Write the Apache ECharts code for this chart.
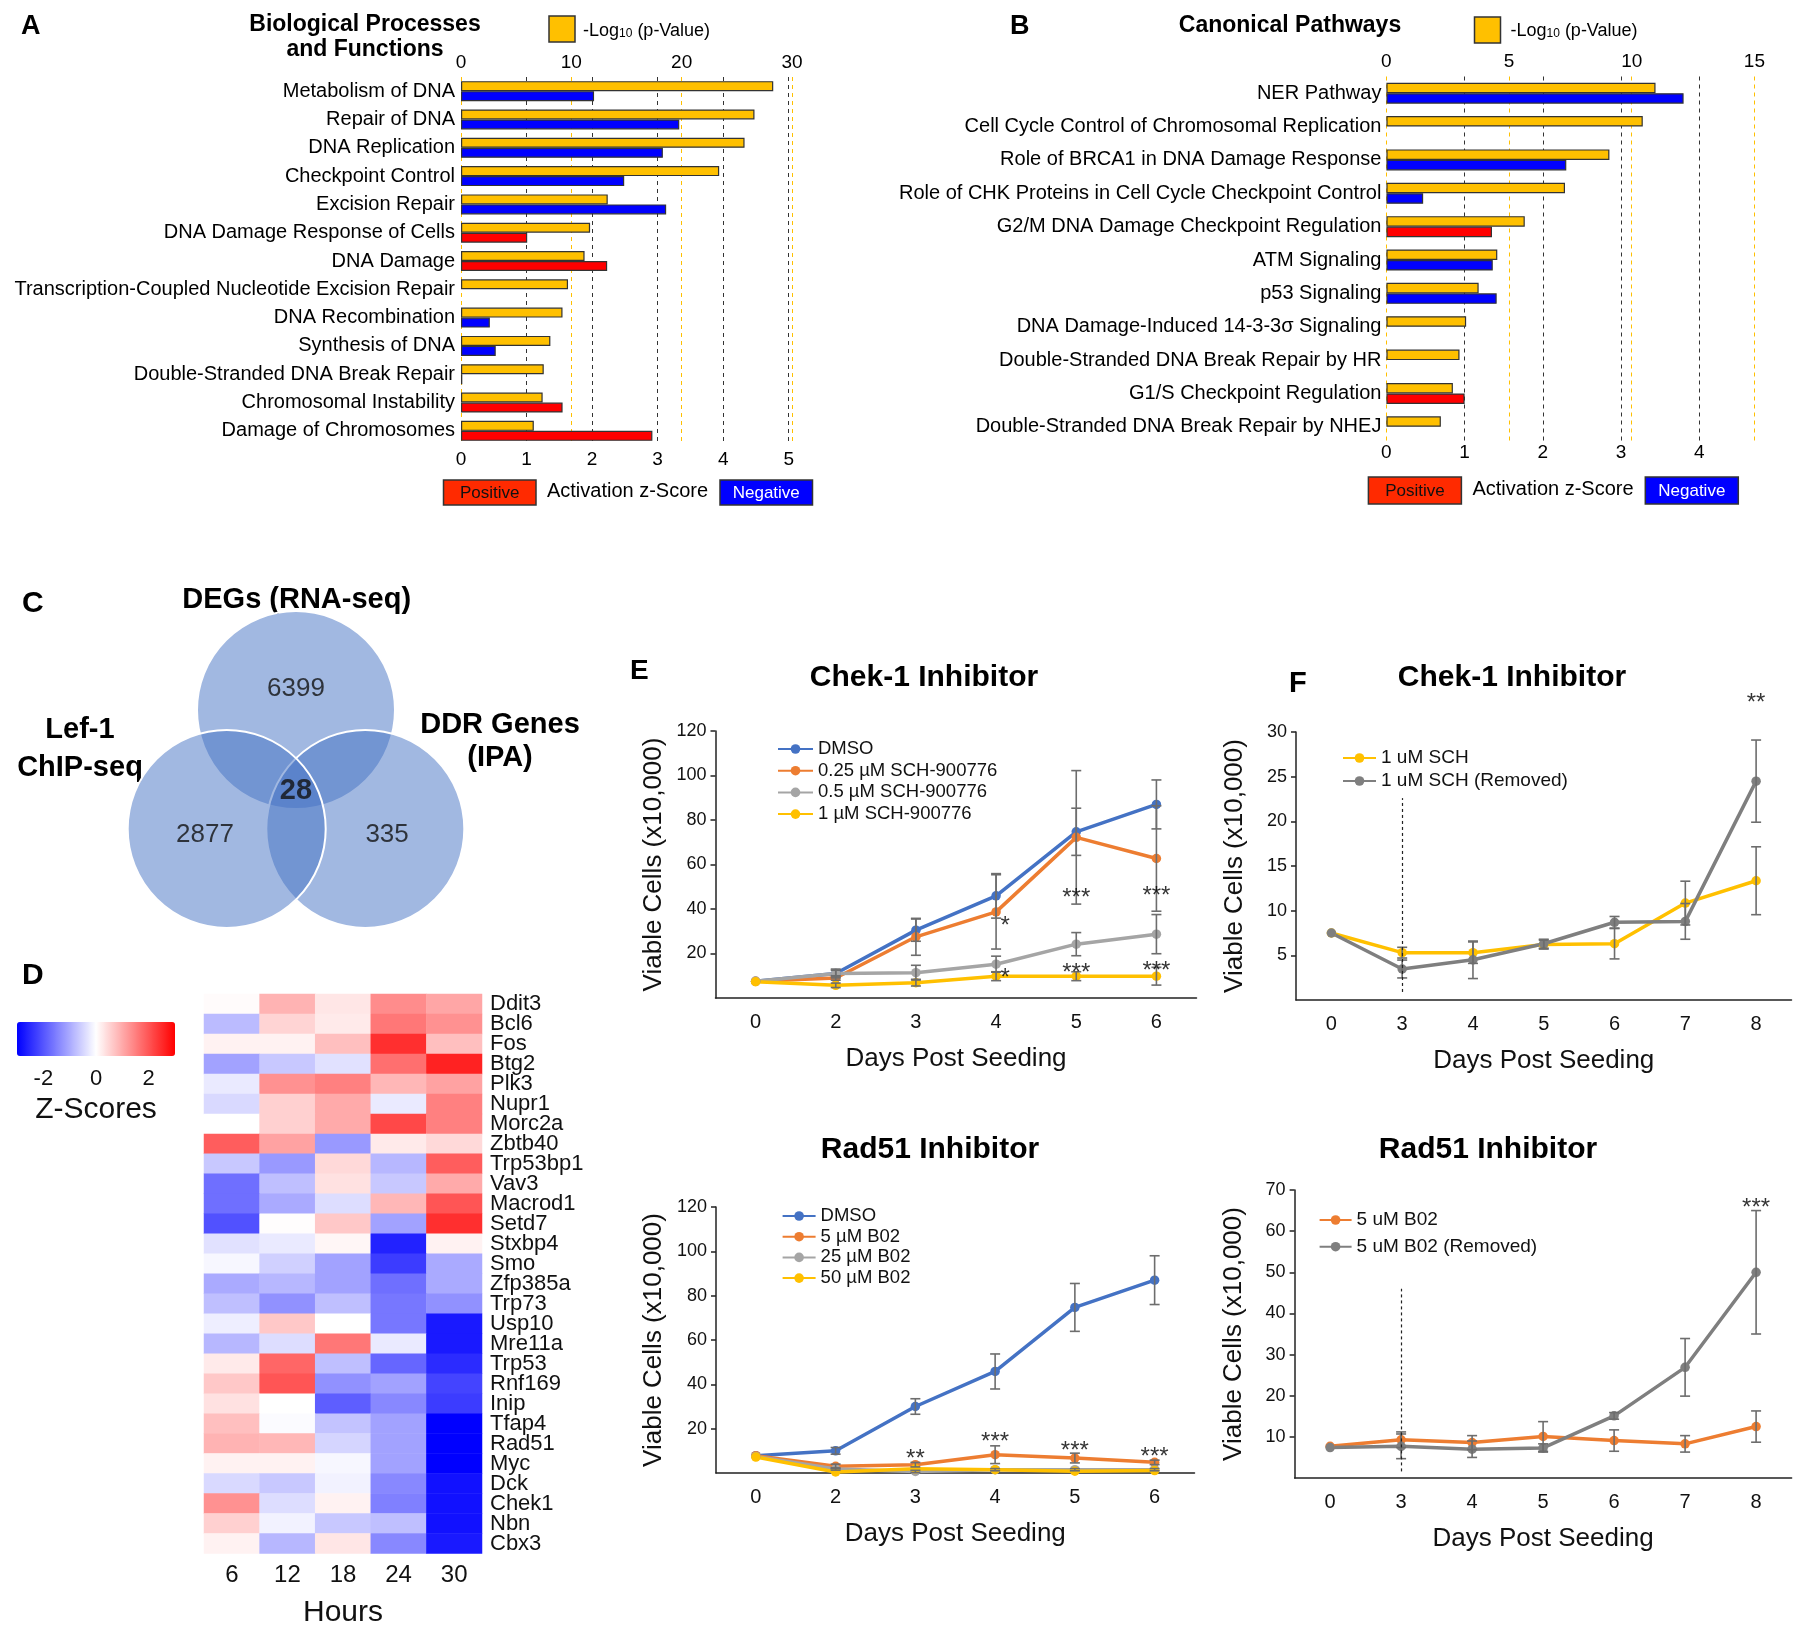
<!DOCTYPE html>
<html><head><meta charset="utf-8">
<script src="https://cdn.jsdelivr.net/npm/echarts@6/dist/echarts.min.js"></script>
<style>html,body{margin:0;padding:0;background:#fff}#c{width:1800px;height:1631px}</style>
</head><body><div id="c"></div>
<script>
// ================= DATA =================
// Panel A
const bioCategories = ['Metabolism of DNA','Repair of DNA','DNA Replication','Checkpoint Control','Excision Repair','DNA Damage Response of Cells','DNA Damage','Transcription-Coupled Nucleotide Excision Repair','DNA Recombination','Synthesis of DNA','Double-Stranded DNA Break Repair','Chromosomal Instability','Damage of Chromosomes'];
const bioLogP = [28.3,26.6,25.7,23.4,13.3,11.7,11.2,9.7,9.2,8.1,7.5,7.4,6.6];
const bioZScore = [-2.03,-3.33,-3.08,-2.49,-3.13,1.01,2.23,null,-0.44,-0.53,-0.02,1.55,2.92];
const bioLogTicks = [0,10,20,30];
const bioZTicks = [0,1,2,3,4,5];
// Panel B
const pathCategories = ['NER Pathway','Cell Cycle Control of Chromosomal Replication','Role of BRCA1 in DNA Damage Response','Role of CHK Proteins in Cell Cycle Checkpoint Control','G2/M DNA Damage Checkpoint Regulation','ATM Signaling','p53 Signaling','DNA Damage-Induced 14-3-3σ Signaling','Double-Stranded DNA Break Repair by HR','G1/S Checkpoint Regulation','Double-Stranded DNA Break Repair by NHEJ'];
const pathLogP = [10.97,10.45,9.09,7.28,5.64,4.52,3.76,3.25,2.98,2.71,2.22];
const pathZScore = [-3.80,null,-2.30,-0.47,1.35,-1.36,-1.41,null,null,1.00,null];
const pathLogTicks = [0,5,10,15];
const pathZTicks = [0,1,2,3,4];
// Panel C
const vennSetNames = ['DEGs (RNA-seq)','Lef-1\nChIP-seq','DDR Genes\n(IPA)'];
const vennUniqueCounts = [6399,2877,335];
const vennCommonCount = 28;
// Panel D
const heatGenes = ['Ddit3','Bcl6','Fos','Btg2','Plk3','Nupr1','Morc2a','Zbtb40','Trp53bp1','Vav3','Macrod1','Setd7','Stxbp4','Smo','Zfp385a','Trp73','Usp10','Mre11a','Trp53','Rnf169','Inip','Tfap4','Rad51','Myc','Dck','Chek1','Nbn','Cbx3'];
const heatHours = ['6','12','18','24','30'];
const heatZ = [
 [0.05,0.9,0.3,1.35,1.05],
 [-0.8,0.5,0.25,1.6,1.3],
 [0.15,0.15,0.75,2.45,0.75],
 [-1.1,-0.65,-0.35,1.7,2.6],
 [-0.25,1.3,1.5,0.85,1.1],
 [-0.45,0.55,1.0,-0.25,1.5],
 [0.0,0.55,1.0,2.15,1.5],
 [1.9,1.1,-1.2,0.25,0.45],
 [-0.65,-1.2,0.45,-0.85,1.9],
 [-1.7,-0.75,0.35,-0.65,1.0],
 [-1.7,-1.0,-0.4,0.85,2.0],
 [-2.05,0.02,0.65,-1.1,2.45],
 [-0.35,-0.25,0.1,-2.6,0.15],
 [-0.1,-0.55,-1.1,-2.3,-1.0],
 [-1.0,-0.85,-1.1,-1.7,-1.0],
 [-0.75,-1.3,-0.75,-1.6,-1.3],
 [-0.2,0.65,0.0,-1.6,-2.7],
 [-0.85,-0.4,1.6,-0.25,-2.7],
 [0.25,1.8,-0.75,-1.8,-2.5],
 [0.65,2.0,-1.3,-1.1,-2.2],
 [0.35,0.0,-1.9,-1.4,-2.3],
 [0.75,-0.05,-0.7,-1.1,-3.0],
 [0.9,0.85,-0.5,-1.1,-3.0],
 [0.15,0.15,-0.1,-1.1,-3.0],
 [-0.45,-0.65,-0.15,-1.4,-2.8],
 [1.3,-0.4,0.15,-1.5,-2.8],
 [0.55,-0.15,-0.65,-0.75,-2.8],
 [0.15,-0.85,0.3,-1.4,-2.7]
];
const zScaleTicks = [-2,0,2];
// Panel E (top): Chek-1 inhibitor
const chekDays = ['0','2','3','4','5','6'];
const chekNames = ['DMSO','0.25 µM SCH-900776','0.5 µM SCH-900776','1 µM SCH-900776'];
const chekDMSO = [7.5,11,30.5,45.9,74.7,87];
const chekDMSOErr = [0,1.5,5,10,10.6,11];
const chek025 = [7.5,9,27.5,38.7,72.2,62.7];
const chek025Err = [0,1,8.3,16.7,30,23.7];
const chek05 = [7.5,11,11.4,15.2,24.2,28.7];
const chek05Err = [0,2,3.3,3.6,5.2,8.8];
const chek1 = [7.3,5.7,6.9,9.8,9.8,9.8];
const chek1Err = [0,1,1.5,2,2,4];
const chekStars = [[3,35.9,'*'],[4,48.5,'***'],[5,49.4,'***'],[3,12.5,'*'],[4,14.7,'***'],[5,15.6,'***']];
// Panel E (bottom): Rad51 inhibitor
const radDays = ['0','2','3','4','5','6'];
const radNames = ['DMSO','5 µM B02','25 µM B02','50 µM B02'];
const radDMSO = [7.8,10,30,45.8,74.7,87];
const radDMSOErr = [0,1.5,3.5,7.9,10.8,11];
const rad5 = [7.8,3,3.75,8.25,6.75,4.8];
const rad5Err = [0,1,1,4,2.2,1];
const rad25 = [7.5,1.8,0.7,1.5,1.5,1.5];
const rad25Err = [0,0.5,0.5,0.5,0.5,0.5];
const rad50 = [7.2,0.45,1.9,1.5,0.8,1.1];
const rad50Err = [0,0,0,0,0,0];
const radStars = [[2,9.7,'**'],[3,17.3,'***'],[4,13.2,'***'],[5,10.5,'***']];
// Panel F (top)
const remDays = ['0','3','4','5','6','7','8'];
const schNames = ['1 uM SCH','1 uM SCH (Removed)'];
const schKept = [7.5,5.3,5.3,6.2,6.3,10.85,13.35];
const schKeptErr = [0,0.6,1.2,0.5,1.7,2.45,3.8];
const schRemoved = [7.5,3.47,4.5,6.3,8.7,8.8,24.5];
const schRemovedErr = [0,1.0,2.1,0.5,0.65,2.0,4.6];
const schStars = [[6,34.1,'**']];
const schRemovalDay = '3';
// Panel F (bottom)
const b02Names = ['5 uM B02','5 uM B02 (Removed)'];
const b02Kept = [7.7,9.3,8.6,10.1,9.1,8.3,12.5];
const b02KeptErr = [0,1.9,1.7,3.6,2.6,2.0,3.8];
const b02Removed = [7.4,7.7,7.0,7.3,15.1,26.9,50];
const b02RemovedErr = [0,3.0,2.0,1.0,0.8,7.0,15.0];
const b02Stars = [[6,67.5,'***']];
const b02RemovalDay = '3';

// ================= STYLE / LAYOUT =================
const SANS = "'Liberation Sans',Arial,Helvetica,sans-serif";
const YEL = '#ffc000', RED = '#ff0000', BLUE = '#0000ff';
const C_BLUE = '#4472c4', C_ORANGE = '#ed7d31', C_GREY = '#a5a5a5', C_DGREY = '#7f7f7f';
const ERR_COL = '#6d6d6d';

const chart = echarts.init(document.getElementById('c'), null, {renderer:'canvas'});

function zItems(arr){
  return arr.map(z => z === null ? '-' : {value: Math.abs(z), itemStyle:{color: z > 0 ? RED : BLUE}});
}
function catAxisBars(grid, cats, margin){
  return {type:'category', gridIndex:grid, data:cats, inverse:true,
    axisLine:{show:false}, axisTick:{show:false}, splitLine:{show:false},
    axisLabel:{interval:0, fontFamily:SANS, fontSize:20, color:'#000', margin:margin}};
}
function valAxisBars(grid, pos, max, labelVals, lineVals, color, margin){
  return {type:'value', gridIndex:grid, position:pos, min:0, max:max,
    axisLine:{show:false},
    axisTick:{show:false, customValues:lineVals},
    axisLabel:{customValues:labelVals, fontFamily:SANS, fontSize:19, color:'#000', margin:margin},
    splitLine:{show:true, lineStyle:{color:color, type:[4,4], width:1}}};
}
function lineXAxis(grid, cats){
  return {type:'category', gridIndex:grid, data:cats, boundaryGap:true,
    axisLine:{lineStyle:{color:'#222', width:1.5}},
    axisTick:{alignWithLabel:true, length:5, lineStyle:{color:'#222', width:1.5}},
    axisLabel:{fontFamily:SANS, fontSize:20, color:'#111', margin:14},
    name:'Days Post Seeding', nameLocation:'middle', nameGap:48,
    nameTextStyle:{fontFamily:SANS, fontSize:26, color:'#111'}};
}
function lineYAxis(grid, max, interval, gap){
  return {type:'value', gridIndex:grid, min:0, max:max, interval:interval,
    axisLine:{show:true, lineStyle:{color:'#222', width:1.5}},
    axisTick:{show:true, length:5, lineStyle:{color:'#222', width:1.5}},
    axisLabel:{showMinLabel:false, fontFamily:SANS, fontSize:18, color:'#111', margin:9},
    splitLine:{show:false},
    name:'Viable Cells (x10,000)', nameLocation:'middle', nameRotate:90, nameGap:gap,
    nameTextStyle:{fontFamily:SANS, fontSize:26, color:'#111'}};
}
function lineSeries(name, data, color, xi, yi){
  return {type:'line', name:name, data:data, xAxisIndex:xi, yAxisIndex:yi,
    symbol:'circle', symbolSize:9.5, showSymbol:true,
    lineStyle:{width:3.5, color:color}, itemStyle:{color:color}, z:3,
    emphasis:{disabled:true}};
}
function errSeries(means, errs, xi, yi){
  const data = [];
  means.forEach((m,i) => { if (errs[i] > 0) data.push([i, m - errs[i], m + errs[i]]); });
  return {type:'custom', xAxisIndex:xi, yAxisIndex:yi, z:4, data:data,
    encode:{x:0, y:[1,2]},
    renderItem:(params, api) => {
      const x = api.value(0);
      const lo = api.coord([x, api.value(1)]);
      const hi = api.coord([x, api.value(2)]);
      const w = 5;
      const st = {stroke:ERR_COL, lineWidth:1.6};
      return {type:'group', children:[
        {type:'line', shape:{x1:lo[0], y1:lo[1], x2:hi[0], y2:hi[1]}, style:st},
        {type:'line', shape:{x1:lo[0]-w, y1:lo[1], x2:lo[0]+w, y2:lo[1]}, style:st},
        {type:'line', shape:{x1:hi[0]-w, y1:hi[1], x2:hi[0]+w, y2:hi[1]}, style:st}
      ]};
    }};
}
function starSeries(stars, xi, yi){
  return {type:'scatter', xAxisIndex:xi, yAxisIndex:yi, symbolSize:0, clip:false, z:5,
    data: stars.map(s => ({value:[s[0], s[1]], name:s[2],
      label:{offset:[s[2] === '*' ? 9 : 0, 8]}})),
    label:{show:true, position:'inside', formatter:p => p.name,
      fontFamily:SANS, fontSize:24, color:'#000'},
    emphasis:{disabled:true}};
}
function removalLine(day, lo, hi, xi, yi){
  return {type:'line', xAxisIndex:xi, yAxisIndex:yi, data:[], z:1,
    markLine:{silent:true, symbol:'none', label:{show:false},
      lineStyle:{color:'#222', type:[3,3], width:1.2},
      data:[[{coord:[day, lo]}, {coord:[day, hi]}]]}};
}

// ----- Venn layout (geometry only; radius = 1 unit) -----
const VENN_R = 1;
const vennCenters = [[0,0.6],[0.7,-0.6],[-0.7,-0.6]]; // top, right, left (draw order)
const vennPx = 99; // px per unit
const vennLabelSpots = [[0,0.81],[-0.92,-0.66],[0.92,-0.66]];
const vennCommonSpot = [0,-0.22];

const heatData = [];
heatZ.forEach((row, gi) => row.forEach((v, hi) => heatData.push([hi, gi, v])));

const series = [
  {type:'bar', name:'logA', xAxisIndex:0, yAxisIndex:0, data:bioLogP, barWidth:10, barGap:'0%',
    itemStyle:{color:YEL, borderColor:'#333', borderWidth:1.2}, emphasis:{disabled:true}},
  {type:'bar', name:'zA', xAxisIndex:1, yAxisIndex:0, data:zItems(bioZScore), barWidth:10,
    itemStyle:{borderColor:'#333', borderWidth:1.2}, emphasis:{disabled:true}},
  {type:'bar', name:'logB', xAxisIndex:2, yAxisIndex:1, data:pathLogP, barWidth:10.5, barGap:'0%',
    itemStyle:{color:YEL, borderColor:'#333', borderWidth:1.2}, emphasis:{disabled:true}},
  {type:'bar', name:'zB', xAxisIndex:3, yAxisIndex:1, data:zItems(pathZScore), barWidth:10.5,
    itemStyle:{borderColor:'#333', borderWidth:1.2}, emphasis:{disabled:true}},
  {type:'scatter', xAxisIndex:4, yAxisIndex:2, data:vennCenters, symbol:'circle',
    symbolSize:2*VENN_R*vennPx, itemStyle:{color:'rgba(68,114,196,0.5)', borderColor:'#ffffff', borderWidth:2, opacity:1},
    emphasis:{disabled:true}, z:2},
  {type:'scatter', xAxisIndex:4, yAxisIndex:2, symbolSize:0, z:3,
    data: vennUniqueCounts.map((c,i) => ({value:vennLabelSpots[i], name:String(c)}))
      .concat([{value:vennCommonSpot, name:String(vennCommonCount), label:{fontWeight:'bold', fontSize:29}}]),
    label:{show:true, position:'inside', formatter:p => p.name, fontFamily:SANS, fontSize:26, color:'#111'},
    emphasis:{disabled:true}},
  {type:'heatmap', xAxisIndex:5, yAxisIndex:3, data:heatData, itemStyle:{borderWidth:0}, emphasis:{disabled:true}},
  lineSeries(chekNames[0], chekDMSO, C_BLUE, 7, 5),
  lineSeries(chekNames[1], chek025, C_ORANGE, 7, 5),
  lineSeries(chekNames[2], chek05, C_GREY, 7, 5),
  lineSeries(chekNames[3], chek1, YEL, 7, 5),
  errSeries(chekDMSO, chekDMSOErr, 7, 5),
  errSeries(chek025, chek025Err, 7, 5),
  errSeries(chek05, chek05Err, 7, 5),
  errSeries(chek1, chek1Err, 7, 5),
  starSeries(chekStars, 7, 5),
  removalLine(schRemovalDay, 0.9, 22.6, 8, 6),
  lineSeries(schNames[0], schKept, YEL, 8, 6),
  lineSeries(schNames[1], schRemoved, C_DGREY, 8, 6),
  errSeries(schKept, schKeptErr, 8, 6),
  errSeries(schRemoved, schRemovedErr, 8, 6),
  starSeries(schStars, 8, 6),
  lineSeries(radNames[0], radDMSO, C_BLUE, 9, 7),
  lineSeries(radNames[1], rad5, C_ORANGE, 9, 7),
  lineSeries(radNames[2], rad25, C_GREY, 9, 7),
  lineSeries(radNames[3], rad50, YEL, 9, 7),
  errSeries(radDMSO, radDMSOErr, 9, 7),
  errSeries(rad5, rad5Err, 9, 7),
  errSeries(rad25, rad25Err, 9, 7),
  starSeries(radStars, 9, 7),
  removalLine(b02RemovalDay, 1.6, 46, 10, 8),
  lineSeries(b02Names[0], b02Kept, C_ORANGE, 10, 8),
  lineSeries(b02Names[1], b02Removed, C_DGREY, 10, 8),
  errSeries(b02Kept, b02KeptErr, 10, 8),
  errSeries(b02Removed, b02RemovedErr, 10, 8),
  starSeries(b02Stars, 10, 8)
];

function legendBlock(left, top, names, gap, fontSize, iw){
  return {orient:'vertical', left:left, top:top, data:names, itemWidth:iw, itemHeight:12, itemGap:gap,
    selectedMode:false, padding:0,
    textStyle:{fontFamily:SANS, fontSize:fontSize, color:'#111', lineHeight:20}};
}

function T(x, y, text, o){
  return {type:'text', x:x, y:y, silent:true, style:Object.assign({text:text, fill:'#000',
    fontFamily:SANS, fontSize:16, align:'left', verticalAlign:'top'}, o||{})};
}
function subLegend(x, y){
  return {type:'text', x:x, y:y, silent:true,
    style:{text:'{a|-Log}{s|10}{a| (p-Value)}', fill:'#000', verticalAlign:'middle',
      rich:{a:{fontFamily:SANS, fontSize:18, lineHeight:22, verticalAlign:'bottom'},
            s:{fontFamily:SANS, fontSize:12, lineHeight:12, verticalAlign:'bottom'}}}};
}
function zLegend(x0, y0, w, h, mid, x1){
  return [
    {type:'rect', shape:{x:x0, y:y0, width:w, height:h}, style:{fill:'#ff2a00', stroke:'#333', lineWidth:1.5}, silent:true},
    T(x0 + w/2, y0 + h/2 + 1, 'Positive', {fontSize:17, align:'center', verticalAlign:'middle', fill:'#111'}),
    T(mid, y0 + h/2 - 1, 'Activation z-Score', {fontSize:20, align:'center', verticalAlign:'middle'}),
    {type:'rect', shape:{x:x1, y:y0, width:w, height:h}, style:{fill:BLUE, stroke:'#333', lineWidth:1.5}, silent:true},
    T(x1 + w/2, y0 + h/2 + 1, 'Negative', {fontSize:17, align:'center', verticalAlign:'middle', fill:'#fff'})
  ];
}

const graphic = [
  T(21, 13, 'A', {fontWeight:'bold', fontSize:27}),
  T(365, 12, 'Biological Processes\nand Functions', {fontWeight:'bold', fontSize:23, align:'center', lineHeight:25}),
  {type:'rect', shape:{x:549, y:16, width:26, height:26}, style:{fill:YEL, stroke:'#333', lineWidth:1.5}, silent:true},
  subLegend(583, 29),
  T(1010, 13, 'B', {fontWeight:'bold', fontSize:27}),
  T(1290, 26, 'Canonical Pathways', {fontWeight:'bold', fontSize:23, align:'center', verticalAlign:'middle'}),
  {type:'rect', shape:{x:1474.5, y:17, width:26, height:26}, style:{fill:YEL, stroke:'#333', lineWidth:1.5}, silent:true},
  subLegend(1510.5, 29),
  ...zLegend(443.5, 480, 92.5, 25, 627.5, 720),
  ...zLegend(1368.4, 477, 93, 27, 1553, 1645.3),
  T(22, 589, 'C', {fontWeight:'bold', fontSize:30}),
  T(296.7, 600, vennSetNames[0], {fontWeight:'bold', fontSize:29, align:'center', verticalAlign:'middle'}),
  T(80, 749, vennSetNames[1], {fontWeight:'bold', fontSize:29, align:'center', verticalAlign:'middle', lineHeight:38}),
  T(500, 741.5, vennSetNames[2], {fontWeight:'bold', fontSize:29, align:'center', verticalAlign:'middle', lineHeight:33}),
  T(22, 961, 'D', {fontWeight:'bold', fontSize:30}),
  T(630, 657, 'E', {fontWeight:'bold', fontSize:28}),
  T(1289, 669, 'F', {fontWeight:'bold', fontSize:29}),
  T(924, 678, 'Chek-1 Inhibitor', {fontWeight:'bold', fontSize:30, align:'center', verticalAlign:'middle'}),
  T(1512, 678, 'Chek-1 Inhibitor', {fontWeight:'bold', fontSize:30, align:'center', verticalAlign:'middle'}),
  T(930, 1150, 'Rad51 Inhibitor', {fontWeight:'bold', fontSize:30, align:'center', verticalAlign:'middle'}),
  T(1488, 1150, 'Rad51 Inhibitor', {fontWeight:'bold', fontSize:30, align:'center', verticalAlign:'middle'})
];

const option = {
  animation:false,
  backgroundColor:'#ffffff',
  textStyle:{fontFamily:SANS},
  grid:[
    {left:461, top:77, width:331, height:368},
    {left:1386.4, top:76.5, width:368, height:367},
    {left:98, top:571.5, width:396, height:396},
    {left:204, top:994, width:278, height:559.5},
    {left:17, top:1022, width:158, height:34},
    {left:715.5, top:731, width:481, height:267},
    {left:1296, top:732, width:495.5, height:268},
    {left:716, top:1207, width:478.5, height:266},
    {left:1294.6, top:1190, width:497, height:288}
  ],
  xAxis:[
    valAxisBars(0, 'top', 30, bioLogTicks, bioLogTicks, YEL, 5),
    valAxisBars(0, 'bottom', 5.05, bioZTicks, bioZTicks.slice(1), '#333', 5),
    valAxisBars(1, 'top', 15, pathLogTicks, pathLogTicks, YEL, 5),
    valAxisBars(1, 'bottom', 4.705, pathZTicks, pathZTicks.slice(1), '#333', 0),
    {type:'value', gridIndex:2, min:-2, max:2, show:false},
    {type:'category', gridIndex:3, data:heatHours, axisLine:{show:false}, axisTick:{show:false},
      axisLabel:{fontFamily:SANS, fontSize:24, color:'#111', margin:10},
      name:'Hours', nameLocation:'middle', nameGap:44, nameTextStyle:{fontFamily:SANS, fontSize:30, color:'#111'}},
    {type:'value', gridIndex:4, min:-3, max:3, axisLine:{show:false}, axisTick:{show:false}, splitLine:{show:false},
      axisLabel:{customValues:zScaleTicks, fontFamily:SANS, fontSize:22, color:'#111', margin:12},
      name:'Z-Scores', nameLocation:'middle', nameGap:39, nameTextStyle:{fontFamily:SANS, fontSize:30, color:'#111'}},
    lineXAxis(5, chekDays),
    lineXAxis(6, remDays),
    lineXAxis(7, radDays),
    lineXAxis(8, remDays)
  ],
  yAxis:[
    catAxisBars(0, bioCategories, 6),
    catAxisBars(1, pathCategories, 5),
    {type:'value', gridIndex:2, min:-2, max:2, show:false},
    {type:'category', gridIndex:3, data:heatGenes, inverse:true, position:'right',
      axisLine:{show:false}, axisTick:{show:false},
      axisLabel:{interval:0, fontFamily:SANS, fontSize:22, color:'#111', margin:8}},
    {type:'value', gridIndex:4, show:false},
    lineYAxis(5, 120, 20, 49),
    lineYAxis(6, 30, 5, 48),
    lineYAxis(7, 120, 20, 49),
    lineYAxis(8, 70, 10, 48)
  ],
  visualMap:[{type:'continuous', seriesIndex:6, dimension:2, min:-3, max:3, orient:'horizontal',
    left:17, top:1022, itemWidth:34, itemHeight:158, calculable:false, padding:0, text:null,
    showLabel:false, hoverLink:false,
    inRange:{color:['#0000ff','#ffffff','#ff0000']}}],
  legend:[
    legendBlock(777, 739, chekNames, 1.7, 18.5, 35),
    legendBlock(1342, 748, schNames, 3, 19, 33),
    legendBlock(781.6, 1206, radNames, 0.7, 18.5, 33),
    legendBlock(1318.6, 1210, b02Names, 6.7, 19, 32)
  ],
  graphic:graphic,
  series:series
};
chart.setOption(option);
</script>
</body></html>
